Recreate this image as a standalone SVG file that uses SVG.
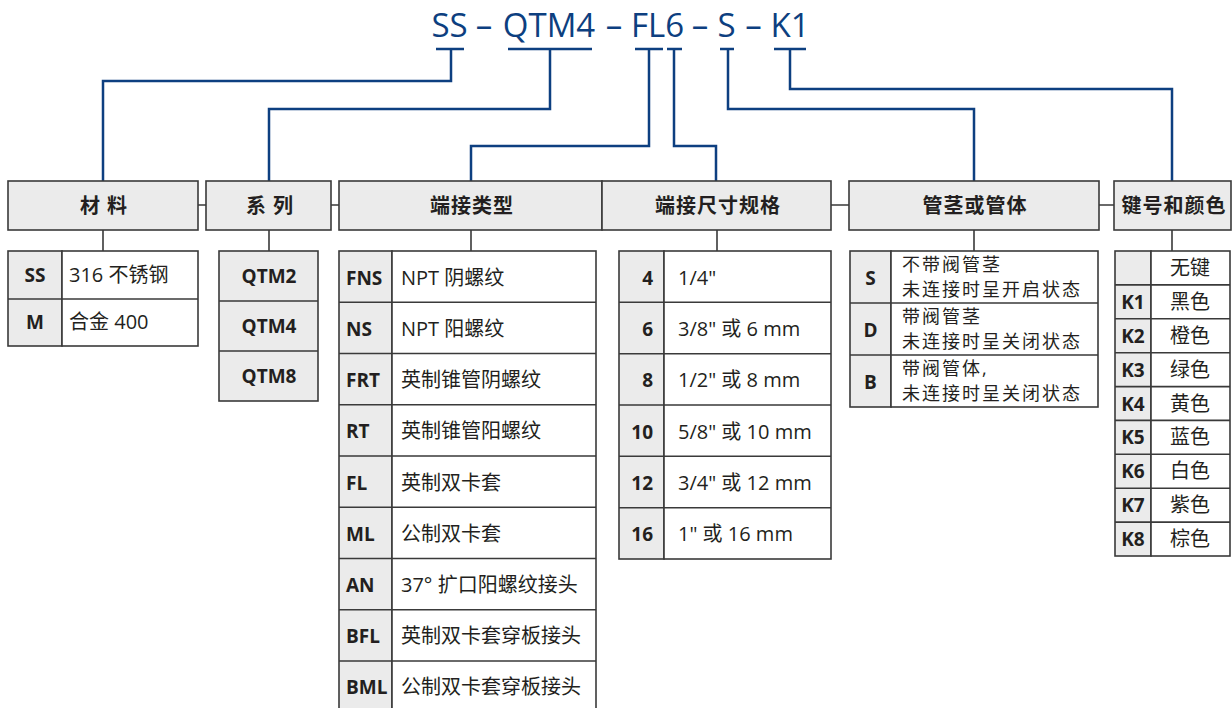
<svg xmlns="http://www.w3.org/2000/svg" width="1232" height="708" viewBox="0 0 1232 708">
<style>
.bg{fill:#ffffff}
.hd{fill:#ebebeb;stroke:#3a3a3a;stroke-width:1.6}
.cg{fill:#ebebeb;stroke:#3a3a3a;stroke-width:1.6}
.cw{fill:#ffffff;stroke:#3a3a3a;stroke-width:1.6}
.gl{fill:none;stroke:#3a3a3a;stroke-width:1.6}
.bl{fill:none;stroke:#0d3f80;stroke-width:2.5}
text{font-family:"Open Sans","Noto Sans CJK SC",sans-serif;fill:#231f20}
.code{font-size:33px;font-weight:500;fill:#0d3f80}
.ht{font-size:20px;font-weight:bold;text-anchor:middle;letter-spacing:1px}
.k{font-size:19px;font-weight:bold}
.d{font-size:20px}
.d2{font-size:18px;letter-spacing:2px}
.m{text-anchor:middle}
.e{text-anchor:end}
</style>
<rect class="bg" x="0" y="0" width="1232" height="708"/>
<g id="code">
<text class="code m" x="449.5" y="37">SS</text>
<text class="code m" x="484" y="37">–</text>
<text class="code m" x="549" y="37">QTM4</text>
<text class="code m" x="614" y="37">–</text>
<text class="code m" x="657.5" y="37">FL6</text>
<text class="code m" x="700" y="37">–</text>
<text class="code m" x="726.5" y="37">S</text>
<text class="code m" x="753.5" y="37">–</text>
<text class="code m" x="790" y="37">K1</text>
</g>
<g id="connectors">
<path class="bl" d="M436 49H464M451 49V81H103V181"/>
<path class="bl" d="M508 49H592M550 49V109H269V181"/>
<path class="bl" d="M635 49H663M649 49V146H471V181"/>
<path class="bl" d="M667 49H682M674 49V146H716V181"/>
<path class="bl" d="M720 49H734M728 49V109H974V181"/>
<path class="bl" d="M774 49H806M790 49V89H1172V181"/>
<path class="gl" d="M103 230V251M269 230V251M471 230V251M717 230V251M974 230V251M1172 230V251"/>
<path class="gl" d="M198 205H206M331 205H339M831 205H849M1099 205H1114"/>
</g>
<g id="h-material"><rect class="hd" x="8" y="181" width="190" height="49"/><text class="ht" x="104" y="213">材 料</text></g>
<g id="h-series"><rect class="hd" x="206" y="181" width="125" height="49"/><text class="ht" x="270" y="213">系 列</text></g>
<g id="h-endtype"><rect class="hd" x="339" y="181" width="263" height="49"/><text class="ht" x="472" y="213">端接类型</text></g>
<g id="h-endsize"><rect class="hd" x="602" y="181" width="229" height="49"/><text class="ht" x="718" y="213">端接尺寸规格</text></g>
<g id="h-stem"><rect class="hd" x="849" y="181" width="250" height="49"/><text class="ht" x="975" y="213">管茎或管体</text></g>
<g id="h-key"><rect class="hd" x="1114" y="181" width="117" height="49"/><text class="ht" x="1174" y="213">键号和颜色</text></g>

<g id="t-material">
<rect class="cg" x="8" y="251" width="54" height="95"/>
<rect class="cw" x="62" y="251" width="136" height="95"/>
<path class="gl" d="M8 299H198"/>
<text class="k m" x="35" y="282">SS</text><text class="d" x="69" y="282">316 不锈钢</text>
<text class="k m" x="35" y="329">M</text><text class="d" x="69" y="329">合金 400</text>
</g>
<g id="t-series">
<rect class="cg" x="219" y="251" width="99" height="150"/>
<path class="gl" d="M219 301H318M219 351H318"/>
<text class="k m" x="269" y="283">QTM2</text>
<text class="k m" x="269" y="333">QTM4</text>
<text class="k m" x="269" y="383">QTM8</text>
</g>
<g id="t-endtype">
<rect class="cg" x="339" y="251" width="53" height="470"/>
<rect class="cw" x="392" y="251" width="204" height="470"/>
<path class="gl" d="M339 302.3H596M339 353.5H596M339 404.8H596M339 456H596M339 507.3H596M339 558.5H596M339 609.8H596M339 661H596"/>
<text class="k" x="346" y="285">FNS</text><text class="d" x="401" y="285">NPT 阴螺纹</text>
<text class="k" x="346" y="336">NS</text><text class="d" x="401" y="336">NPT 阳螺纹</text>
<text class="k" x="346" y="387">FRT</text><text class="d" x="401" y="387">英制锥管阴螺纹</text>
<text class="k" x="346" y="438">RT</text><text class="d" x="401" y="438">英制锥管阳螺纹</text>
<text class="k" x="346" y="490">FL</text><text class="d" x="401" y="490">英制双卡套</text>
<text class="k" x="346" y="541">ML</text><text class="d" x="401" y="541">公制双卡套</text>
<text class="k" x="346" y="592">AN</text><text class="d" x="401" y="592">37° 扩口阳螺纹接头</text>
<text class="k" x="346" y="643">BFL</text><text class="d" x="401" y="643">英制双卡套穿板接头</text>
<text class="k" x="346" y="694">BML</text><text class="d" x="401" y="694">公制双卡套穿板接头</text>
</g>
<g id="t-endsize">
<rect class="cg" x="619" y="251" width="45" height="308"/>
<rect class="cw" x="664" y="251" width="167" height="308"/>
<path class="gl" d="M619 302.3H831M619 353.7H831M619 405H831M619 456.3H831M619 507.7H831"/>
<text class="k e" x="653" y="285">4</text><text class="d" x="678" y="285">1/4"</text>
<text class="k e" x="653" y="336">6</text><text class="d" x="678" y="336">3/8" 或 6 mm</text>
<text class="k e" x="653" y="387">8</text><text class="d" x="678" y="387">1/2" 或 8 mm</text>
<text class="k e" x="653" y="439">10</text><text class="d" x="678" y="439">5/8" 或 10 mm</text>
<text class="k e" x="653" y="490">12</text><text class="d" x="678" y="490">3/4" 或 12 mm</text>
<text class="k e" x="653" y="541">16</text><text class="d" x="678" y="541">1" 或 16 mm</text>
</g>
<g id="t-stem">
<rect class="cg" x="850" y="251" width="41" height="156"/>
<rect class="cw" x="891" y="251" width="207" height="156"/>
<path class="gl" d="M850 303H1098M850 355H1098"/>
<text class="k m" x="870.5" y="285">S</text>
<text class="d2" x="902" y="271">不带阀管茎</text><text class="d2" x="902" y="295.5">未连接时呈开启状态</text>
<text class="k m" x="870.5" y="337">D</text>
<text class="d2" x="902" y="323">带阀管茎</text><text class="d2" x="902" y="347.5">未连接时呈关闭状态</text>
<text class="k m" x="870.5" y="389">B</text>
<text class="d2" x="902" y="375">带阀管体,</text><text class="d2" x="902" y="399.5">未连接时呈关闭状态</text>
</g>
<g id="t-key">
<rect class="cg" x="1115" y="251" width="36" height="305"/>
<rect class="cw" x="1151" y="251" width="79" height="305"/>
<path class="gl" d="M1115 284.9H1230M1115 318.8H1230M1115 352.7H1230M1115 386.6H1230M1115 420.4H1230M1115 454.3H1230M1115 488.2H1230M1115 522.1H1230"/>
<text class="d m" x="1190" y="275">无键</text>
<text class="k m" x="1133" y="309">K1</text><text class="d m" x="1190" y="309">黑色</text>
<text class="k m" x="1133" y="343">K2</text><text class="d m" x="1190" y="343">橙色</text>
<text class="k m" x="1133" y="377">K3</text><text class="d m" x="1190" y="377">绿色</text>
<text class="k m" x="1133" y="411">K4</text><text class="d m" x="1190" y="411">黄色</text>
<text class="k m" x="1133" y="444">K5</text><text class="d m" x="1190" y="444">蓝色</text>
<text class="k m" x="1133" y="478">K6</text><text class="d m" x="1190" y="478">白色</text>
<text class="k m" x="1133" y="512">K7</text><text class="d m" x="1190" y="512">紫色</text>
<text class="k m" x="1133" y="546">K8</text><text class="d m" x="1190" y="546">棕色</text>
</g>
</svg>
